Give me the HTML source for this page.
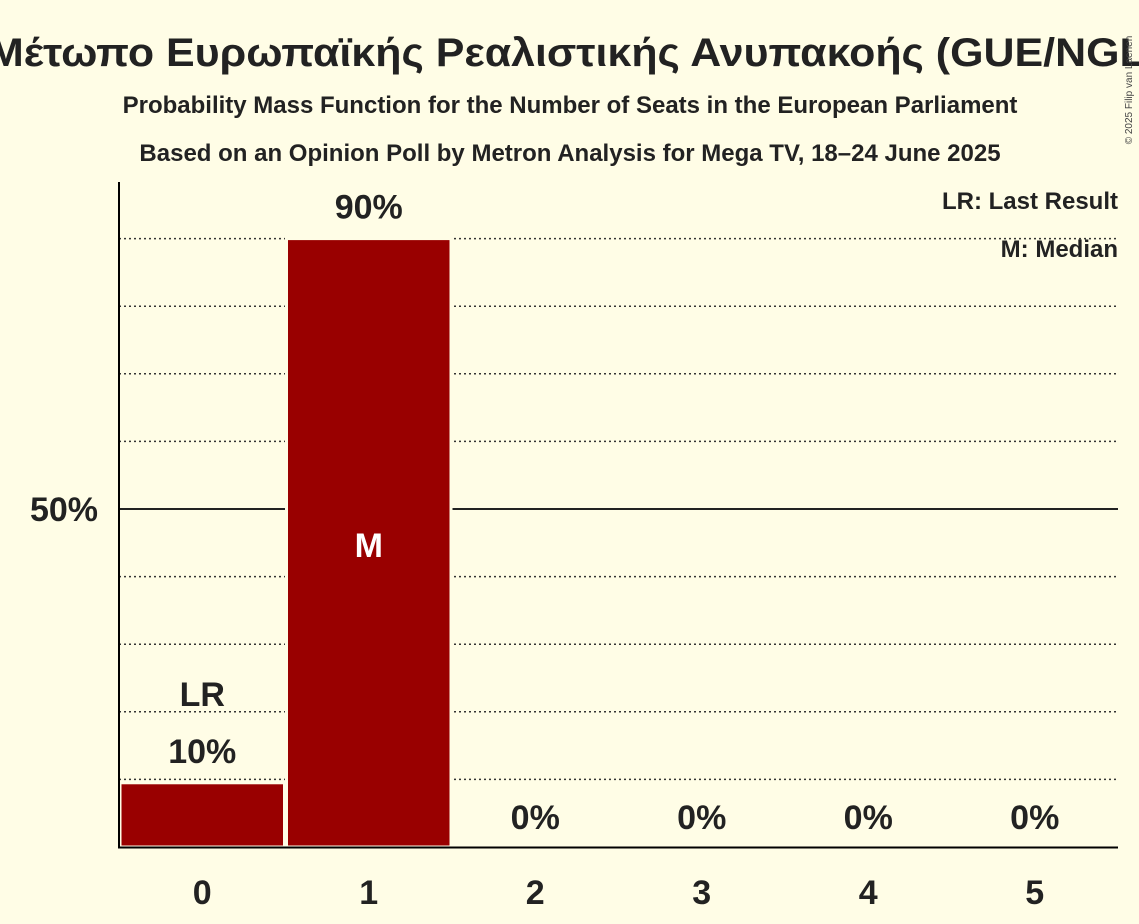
<!DOCTYPE html>
<html><head><meta charset="utf-8"><style>
html,body{margin:0;padding:0;background:#FFFDE6;}
svg{display:block;font-family:"Liberation Sans",sans-serif;}
</style></head><body>
<svg width="1139" height="924" viewBox="0 0 1139 924" id="chart">
<rect width="1139" height="924" fill="#FFFDE6"/>
<text x="-12" y="66" font-size="40" font-weight="bold" fill="#222" textLength="1172" lengthAdjust="spacingAndGlyphs">Μέτωπο Ευρωπαϊκής Ρεαλιστικής Ανυπακοής (GUE/NGL)</text>
<text x="570" y="113" font-size="24" font-weight="bold" fill="#222" text-anchor="middle">Probability Mass Function for the Number of Seats in the European Parliament</text>
<text x="570" y="161" font-size="24" font-weight="bold" fill="#222" text-anchor="middle">Based on an Opinion Poll by Metron Analysis for Mega TV, 18–24 June 2025</text>
<text x="1132" y="90" font-size="10" fill="#444" transform="rotate(-90 1132 90)" text-anchor="middle">© 2025 Filip van Laenen</text>
<g id="grid"></g>
<g id="bars"></g>
<line x1="119" y1="182" x2="119" y2="848" stroke="#000" stroke-width="2"/>
<line x1="118" y1="847.5" x2="1118" y2="847.5" stroke="#000" stroke-width="2"/>
<text x="1118" y="209" font-size="24" font-weight="bold" fill="#222" text-anchor="end">LR: Last Result</text>
<text x="1118" y="257" font-size="24" font-weight="bold" fill="#222" text-anchor="end">M: Median</text>
</svg>
<script>
const categories=[0,1,2,3,4,5];
const values=[9.5,90,0,0,0,0];
const valueLabels=["10%","90%","0%","0%","0%","0%"];
const lastResult=0;
const median=1;
const yTicks=[50];
const gridValues=[10,20,30,40,60,70,80,90];
const NS="http://www.w3.org/2000/svg";
const x0=119,x1=1118,yBase=847,yTop=171;
const bw=(x1-x0)/categories.length;
function xs(i){return x0+i*bw;}
function ys(v){return yBase-(yBase-yTop)*v/100;}
const grid=document.getElementById('grid'),bars=document.getElementById('bars'),svg=document.getElementById('chart');
function mk(t,a,p){const e=document.createElementNS(NS,t);for(const k in a)e.setAttribute(k,a[k]);p.appendChild(e);return e;}
gridValues.forEach(v=>{const l=mk('line',{x1:x0,x2:x1,y1:ys(v),y2:ys(v),stroke:'#333','stroke-width':1.5,'stroke-dasharray':'2,3'},grid);

});
yTicks.forEach(v=>{const l=mk('line',{x1:x0,x2:x1,y1:ys(v),y2:ys(v),stroke:'#222','stroke-width':2},grid);


const t=mk('text',{x:98,y:ys(v)+12,'font-size':34,'font-weight':'bold','text-anchor':'end',fill:'#222'},svg);t.textContent=v+'%';

});
categories.forEach((c,i)=>{
const cx=xs(i)+bw/2;
if(values[i]>0){
const r=mk('rect',{x:xs(i)+1,y:ys(values[i]),width:bw-2,height:yBase-ys(values[i]),fill:'#990000',stroke:'#FFFDE6','stroke-width':3},bars);

}
const inside=false;
const lt=mk('text',{x:cx,y:values[i]>0?ys(values[i])-20:yBase-18,'font-size':34,'font-weight':'bold','text-anchor':'middle',fill:'#222'},svg);lt.textContent=valueLabels[i];


if(i===lastResult){const t=mk('text',{x:cx,y:ys(values[i])-77,'font-size':34,'font-weight':'bold','text-anchor':'middle',fill:'#222'},svg);t.textContent='LR';

}
if(i===median){const t=mk('text',{x:cx,y:ys(50)+48,'font-size':34,'font-weight':'bold','text-anchor':'middle',fill:'#fff'},svg);t.textContent='M';

}
const xt=mk('text',{x:cx,y:904,'font-size':34,'font-weight':'bold','text-anchor':'middle',fill:'#222'},svg);xt.textContent=c;


});
</script>
</body></html>
